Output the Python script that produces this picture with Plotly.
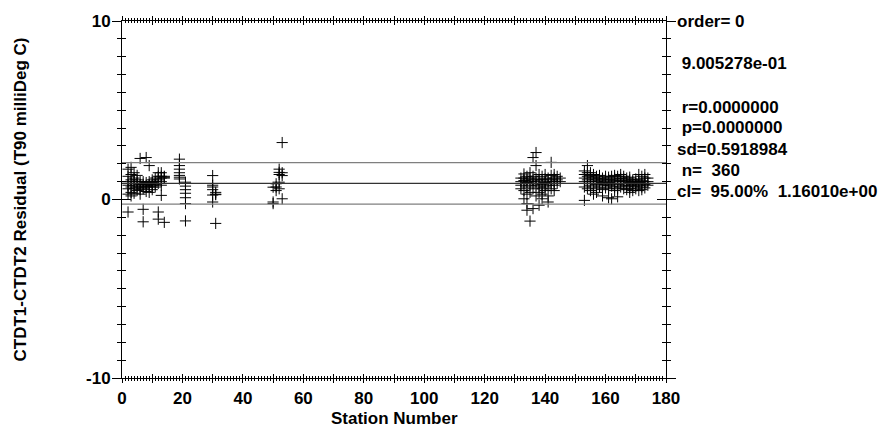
import plotly.graph_objects as go

# ---------------- data ----------------
stations_a = [2]*7 + [3]*7 + [4]*6 + [5]*5 + [6]*6 + [7]*6 + [8]*5 + [9]*5 + [10]*5 + [11]*4 + [12]*6 + [13]*6 + [14]*4
resid_a = [1.7, 1.3, 1.0, 0.8, 0.6, 0.3, -0.7,
           1.8, 1.4, 1.1, 0.9, 0.7, 0.4, 0.2,
           1.5, 1.2, 1.0, 0.8, 0.6, 0.35,
           1.35, 1.1, 0.9, 0.7, 0.5,
           2.3, 1.0, 0.85, 0.7, 0.55, 0.3,
           1.0, 0.85, 0.7, 0.6, -0.55, -1.25,
           2.35, 0.95, 0.8, 0.7, 0.45,
           1.9, 1.0, 0.85, 0.75, 0.4,
           1.1, 0.95, 0.8, 0.7, 0.55,
           1.2, 1.0, 0.85, 0.7,
           1.5, 1.3, 1.1, 0.9, -0.7, -1.1,
           1.5, 1.3, 1.2, 1.0, 0.8, 0.23,
           1.3, 1.25, 1.2, -1.28]

stations_b = [19]*7 + [21]*7 + [30]*6 + [31]*4 + [50]*3 + [51]*3 + [52]*5 + [53]*4
resid_b = [2.26, 1.9, 1.7, 1.5, 1.35, 1.25, 1.15,
           0.97, 0.75, 0.55, 0.35, 0.1, -0.23, -1.2,
           1.34, 0.8, 0.7, 0.55, 0.25, -0.14,
           0.4, 0.3, 0.27, -1.34,
           -0.14, -0.23, 0.69,
           0.88, 0.7, 0.5,
           1.7, 1.52, 1.4, 0.97, 0.6,
           3.19, 1.5, 1.34, 0.04]

stations_c = ([132]*4 + [133]*6 + [134]*7 + [135]*6 + [136]*6 + [137]*6 + [138]*6 +
              [139]*6 + [140]*5 + [141]*5 + [142]*5 + [143]*5 + [144]*3 + [145]*2)
resid_c = [1.2, 1.0, 0.8, 0.6,
           1.43, 1.2, 1.06, 0.9, 0.5, 0.04,
           1.3, 1.1, 0.95, 0.7, 0.3, -0.23, -0.6,
           1.5, 1.2, 1.0, 0.8, 0.4, -1.21,
           2.35, 1.3, 1.1, 0.9, 0.6, -0.51,
           2.63, 1.9, 1.2, 1.0, 0.8, 0.2,
           1.4, 1.1, 0.9, 0.7, 0.4, -0.32,
           1.3, 1.1, 0.85, 0.6, 0.3, 0.04,
           1.4, 1.15, 0.95, 0.7, 0.5,
           1.2, 1.0, 0.8, 0.2, -0.14,
           2.08, 1.35, 1.1, 0.9, 0.6,
           1.4, 1.2, 1.0, 0.8, 0.5,
           1.3, 1.1, 0.9,
           1.2, 1.0]

stations_d = ([153]*6 + [154]*6 + [155]*6 + [156]*6 + [157]*6 + [158]*5 + [159]*6 + [160]*5 +
              [161]*6 + [162]*5 + [163]*6 + [164]*6 + [165]*5 + [166]*5 + [167]*5 + [168]*6 +
              [169]*5 + [170]*5 + [171]*5 + [172]*5 + [173]*5 + [174]*3)
resid_d = [1.6, 1.4, 1.2, 1.0, 0.7, -0.05,
           1.9, 1.5, 1.3, 1.1, 0.9, 0.6,
           1.5, 1.35, 1.2, 1.0, 0.8, 0.5,
           1.4, 1.25, 1.1, 0.9, 0.7, 0.3,
           1.3, 1.15, 1.0, 0.85, 0.6, 0.4,
           1.35, 1.2, 1.05, 0.9, 0.7,
           1.2, 1.1, 0.95, 0.8, 0.55, 0.2,
           1.3, 1.15, 1.0, 0.85, 0.65,
           1.25, 1.1, 0.95, 0.8, 0.6, 0.1,
           1.3, 1.1, 0.9, 0.75, 0.04,
           1.35, 1.2, 1.05, 0.9, 0.7, 0.5,
           1.3, 1.15, 1.0, 0.85, 0.6, 0.15,
           1.4, 1.2, 1.05, 0.9, 0.7,
           1.3, 1.15, 1.0, 0.8, 0.6,
           1.2, 1.05, 0.9, 0.75, 0.55,
           1.25, 1.1, 0.95, 0.8, 0.6, 0.4,
           1.1, 1.0, 0.85, 0.7, 0.5,
           1.15, 1.0, 0.9, 0.75, 0.6,
           1.4, 1.1, 0.95, 0.8, 0.5,
           1.3, 1.05, 0.9, 0.7, 0.55,
           1.4, 1.2, 1.0, 0.85, 0.65,
           1.2, 1.0, 0.8]

fit_mean = 0.9005278
conf_limit = 1.16010
x_range = [0, 180]
y_range = [-10, 10]

x_tickvals = list(range(0, 181, 10))
x_ticktext = [str(v) if v % 20 == 0 else "" for v in x_tickvals]
y_tickvals = [-10, 0, 10]

stats_text = ["order= 0", " 9.005278e-01", " r=0.0000000", " p=0.0000000",
              "sd=0.5918984", " n=  360", "cl=  95.00%  1.16010e+00"]
stats_ypx = [17, 60, 104, 125, 147, 168, 189]

x_title = "Station Number"
y_title = "CTDT1-CTDT2 Residual (T90 milliDeg C)"

# ---------------- figure ----------------
W, H = 878, 427
L, R, T, B = 122, 212, 17, 49
plot_w = W - L - R
plot_h = H - T - B
FONT = "Liberation Sans, Arial, sans-serif"

stations = stations_a + stations_b + stations_c + stations_d
resid = resid_a + resid_b + resid_c + resid_d

fig = go.Figure()
fig.add_trace(go.Scatter(
    x=stations, y=resid, mode="markers",
    marker=dict(symbol="cross-thin", size=8, line=dict(color="black", width=1)),
    showlegend=False, hoverinfo="skip"))

line_vals = [fit_mean + conf_limit, fit_mean, fit_mean - conf_limit]
line_cols = ["#7f7f7f", "#333333", "#7f7f7f"]
for v, c in zip(line_vals, line_cols):
    fig.add_trace(go.Scatter(x=x_range, y=[v, v], mode="lines", xaxis="x2", yaxis="y2",
                             line=dict(color=c, width=1.2), showlegend=False, hoverinfo="skip"))

tick_font = dict(family=FONT, size=17, color="black")
bold = lambda s: "<b>" + s + "</b>"

common_x = dict(range=x_range, showgrid=False, zeroline=False, showline=True,
                linecolor="black", linewidth=1, mirror="ticks",
                tickvals=x_tickvals, tickwidth=1, tickcolor="black")
common_y = dict(range=y_range, showgrid=False, zeroline=False, showline=True,
                linecolor="black", linewidth=1, mirror="ticks",
                tickvals=y_tickvals, tickwidth=1, tickcolor="black")

fig.update_layout(
    width=W, height=H, margin=dict(l=L, r=R, t=T, b=B),
    paper_bgcolor="white", plot_bgcolor="white",
    font=tick_font,
    xaxis=dict(**common_x, ticks="outside", ticklen=4, ticklabelstandoff=1,
               ticktext=[bold(t) for t in x_ticktext], tickfont=tick_font,
               minor=dict(dtick=1, ticks="outside", ticklen=2, tickcolor="black", tickwidth=1)),
    yaxis=dict(**common_y, ticks="outside", ticklen=9, tickfont=tick_font, ticklabelstandoff=-2,
               ticktext=[bold(str(v)) for v in y_tickvals],
               minor=dict(dtick=1, ticks="outside", ticklen=4, tickcolor="black", tickwidth=1)),
    xaxis2=dict(**common_x, overlaying="x", ticks="inside", ticklen=4, showticklabels=False,
                minor=dict(dtick=1, ticks="inside", ticklen=2, tickcolor="black", tickwidth=1)),
    yaxis2=dict(**common_y, overlaying="y", ticks="inside", ticklen=9, showticklabels=False,
                minor=dict(dtick=1, ticks="inside", ticklen=4, tickcolor="black", tickwidth=1)),
)

for txt, ypx in zip(stats_text, stats_ypx):
    fig.add_annotation(text=bold(txt.replace(" ", "&nbsp;")), xref="paper", yref="paper",
                       x=(675 - L) / plot_w, y=(H - B - ypx) / plot_h,
                       xanchor="left", yanchor="middle", showarrow=False,
                       font=dict(family=FONT, size=17, color="black"))

fig.add_annotation(text=bold(x_title), xref="paper", yref="paper",
                   x=0.5, y=(H - B - 419) / plot_h, xanchor="center", yanchor="middle",
                   showarrow=False, font=dict(family=FONT, size=17))
fig.add_annotation(text=bold(y_title), xref="paper", yref="paper", textangle=-90,
                   x=(20 - L) / plot_w, y=0.5, xanchor="center", yanchor="middle",
                   showarrow=False, font=dict(family=FONT, size=17))

fig.write_html("out.html", config={"displayModeBar": False},
               post_script="document.body.style.margin='0';")
